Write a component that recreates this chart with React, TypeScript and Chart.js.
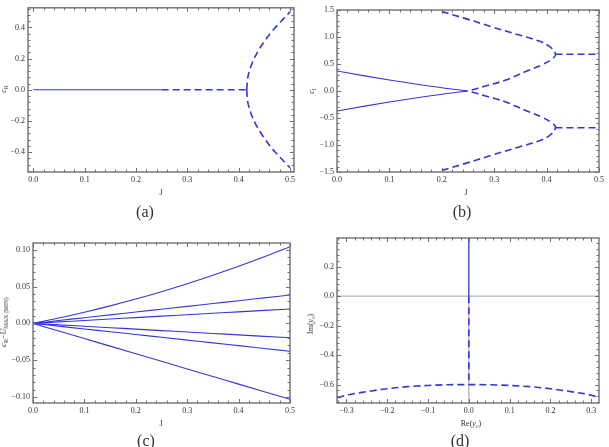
import React, { useEffect, useRef } from "react";
import { Chart, registerables } from "chart.js";
Chart.register(...registerables);

// ---------------- Data ----------------
// Panel (a): c_R vs J
const aJTicks = [0, 0.1, 0.2, 0.3, 0.4, 0.5];
const aCTicks = [-0.4, -0.2, 0, 0.2, 0.4];
const aSolidJ = [0, 0.25];
const aSolidC = [0, 0];
const aFlatJ = [0.25, 0.4157];
const aFlatC = [0, 0];
const aBranchJ = [0.4157, 0.417, 0.42, 0.425, 0.43, 0.44, 0.45, 0.46, 0.47, 0.48, 0.49, 0.5];
const aBranchUp = [0, 0.06, 0.11, 0.16, 0.2, 0.26, 0.31, 0.355, 0.395, 0.43, 0.465, 0.5];
const aBranchDown = [0, -0.06, -0.11, -0.16, -0.2, -0.26, -0.31, -0.355, -0.395, -0.43, -0.465, -0.5];

// Panel (b): c_I vs J
const bJTicks = [0, 0.1, 0.2, 0.3, 0.4, 0.5];
const bCTicks = [-1.5, -1, -0.5, 0, 0.5, 1, 1.5];
const bSolidJ = [0, 0.05, 0.1, 0.15, 0.2, 0.25];
const bSolidUp = [0.37, 0.285, 0.205, 0.13, 0.06, 0];
const bSolidDown = [-0.37, -0.285, -0.205, -0.13, -0.06, 0];
// dashed parabola-like branch: from top edge, round the turning point, back to (0.25, 0)
const bLoopJ = [0.2, 0.244, 0.295, 0.346, 0.384, 0.406, 0.417, 0.41, 0.39, 0.359, 0.321, 0.282, 0.25];
const bLoopUp = [1.47, 1.345, 1.19, 1.04, 0.93, 0.82, 0.68, 0.59, 0.48, 0.357, 0.2, 0.087, 0];
const bLoopDown = [-1.47, -1.345, -1.19, -1.04, -0.93, -0.82, -0.68, -0.59, -0.48, -0.357, -0.2, -0.087, 0];
const bFlatJ = [0.417, 0.5];
const bFlatUp = [0.68, 0.68];
const bFlatDown = [-0.68, -0.68];

// Panel (c): c_R - U_MAX(MIN) vs J
const cJTicks = [0, 0.1, 0.2, 0.3, 0.4, 0.5];
const cCTicks = [-0.1, -0.05, 0, 0.05, 0.1];
const cJ = [0, 0.05, 0.1, 0.15, 0.2, 0.25, 0.3, 0.35, 0.4, 0.45, 0.5];
const cLine1 = [0, 0.0072, 0.0151, 0.0237, 0.033, 0.043, 0.0538, 0.0653, 0.0774, 0.0903, 0.104];
const cLine2 = [0, 0.0038, 0.0077, 0.0115, 0.0154, 0.0192, 0.023, 0.0269, 0.0307, 0.0346, 0.0385];
const cLine3 = [0, 0.002, 0.0039, 0.0059, 0.0078, 0.0098, 0.0117, 0.0137, 0.0156, 0.0176, 0.0195];
const cLine4 = [0, -0.002, -0.0039, -0.0059, -0.0078, -0.0098, -0.0117, -0.0137, -0.0156, -0.0176, -0.0195];
const cLine5 = [0, -0.0038, -0.0076, -0.0113, -0.0151, -0.0189, -0.0227, -0.0265, -0.0302, -0.034, -0.0378];
const cLine6 = [0, -0.0103, -0.0206, -0.0309, -0.0412, -0.0515, -0.0618, -0.0721, -0.0824, -0.0927, -0.103];

// Panel (d): Im(y_c) vs Re(y_c)
const dReTicks = [-0.3, -0.2, -0.1, 0, 0.1, 0.2, 0.3];
const dImTicks = [-0.6, -0.4, -0.2, 0, 0.2];
const dRe = [-0.322, -0.3, -0.25, -0.2, -0.15, -0.1, -0.05, 0, 0.05, 0.1, 0.15, 0.2, 0.25, 0.3, 0.322];
const dIm = [-0.69, -0.672, -0.648, -0.628, -0.614, -0.606, -0.601, -0.6, -0.601, -0.606, -0.614, -0.628, -0.648, -0.672, -0.69];
const dVertRe = [0, 0];
const dVertSolidIm = [0, 0.395];
const dVertDashIm = [0, -0.6];

// ---------------- Styling helpers ----------------
const BLUE = "#3636d8";
const FRAME = "#707070";
const FONT = '"Liberation Serif", "Times New Roman", serif';

const pts = (xs: number[], ys: number[]) => xs.map((x, i) => ({ x, y: ys[i] }));

// mode: "none" straight segments, "mono" monotone cubic, "bez" bezier with tension
const ds = (xs: number[], ys: number[], dashed: boolean, mode: "none" | "mono" | "bez" = "mono") => ({
  data: pts(xs, ys),
  borderColor: BLUE,
  borderWidth: dashed ? 1.6 : 1.1,
  borderDash: dashed ? [7, 4] : [],
  pointRadius: 0,
  fill: false,
  tension: mode === "bez" ? 0.4 : 0,
  cubicInterpolationMode: mode === "mono" ? "monotone" : "default",
});

const fmt = (v: number, d: number) => {
  const s = Math.abs(v).toFixed(d);
  return v < -1e-9 ? "\u2212" + s : s;
};

const makeScale = (axis: "x" | "y", min: number, max: number, ticksArr: number[], digits: number, size: number) => ({
  type: "linear",
  min,
  max,
  grid: { display: false, drawTicks: false, tickLength: 0 },
  border: { display: false },
  afterBuildTicks: (s: any) => {
    s.ticks = ticksArr.map((v) => ({ value: v }));
  },
  afterFit: (s: any) => {
    if (axis === "x") s.height = size;
    else s.width = size;
  },
  ticks: {
    autoSkip: false,
    maxRotation: 0,
    padding: 3,
    color: "#333",
    font: { family: FONT, size: 8 },
    callback: (v: any) => fmt(Number(v), digits),
  },
});

const makeFramePlugin = (xMajor: number[], yMajor: number[], axes: boolean) => ({
  id: "frameTicks",
  beforeDatasetsDraw(chart: any) {
    if (!axes) return;
    const { ctx, chartArea, scales } = chart;
    const { left, right, top, bottom } = chartArea;
    ctx.save();
    ctx.strokeStyle = "#b4b4b4";
    ctx.lineWidth = 1.3;
    const x0 = scales.x.getPixelForValue(0);
    const y0 = scales.y.getPixelForValue(0);
    ctx.beginPath();
    ctx.moveTo(left, y0);
    ctx.lineTo(right, y0);
    ctx.moveTo(x0, top);
    ctx.lineTo(x0, bottom);
    ctx.stroke();
    ctx.restore();
  },
  afterDraw(chart: any) {
    const { ctx, chartArea, scales } = chart;
    const { left, right, top, bottom } = chartArea;
    const xs = scales.x;
    const ys = scales.y;
    const minorVals = (major: number[], min: number, max: number) => {
      const out: number[] = [];
      const step = (major[1] - major[0]) / 5;
      for (let v = major[0] - step; v >= min - 1e-9; v -= step) out.push(v);
      for (let i = 0; i < major.length - 1; i++) {
        for (let k = 1; k < 5; k++) out.push(major[i] + k * step);
      }
      for (let v = major[major.length - 1] + step; v <= max + 1e-9; v += step) out.push(v);
      return out;
    };
    ctx.save();
    ctx.strokeStyle = FRAME;
    ctx.lineWidth = 1;
    ctx.beginPath();
    const xTick = (v: number, len: number) => {
      const p = Math.round(xs.getPixelForValue(v)) + 0.5;
      if (p < left - 0.5 || p > right + 0.5) return;
      ctx.moveTo(p, bottom);
      ctx.lineTo(p, bottom - len);
      ctx.moveTo(p, top);
      ctx.lineTo(p, top + len);
    };
    const yTick = (v: number, len: number) => {
      const p = Math.round(ys.getPixelForValue(v)) + 0.5;
      if (p < top - 0.5 || p > bottom + 0.5) return;
      ctx.moveTo(left, p);
      ctx.lineTo(left + len, p);
      ctx.moveTo(right, p);
      ctx.lineTo(right - len, p);
    };
    xMajor.forEach((v) => xTick(v, 4));
    yMajor.forEach((v) => yTick(v, 4));
    minorVals(xMajor, xs.min, xs.max).forEach((v) => xTick(v, 2.5));
    minorVals(yMajor, ys.min, ys.max).forEach((v) => yTick(v, 2.5));
    ctx.stroke();
    ctx.lineWidth = 1.4;
    ctx.strokeRect(left, top, right - left, bottom - top);
    ctx.restore();
  },
});

type PanelProps = {
  left: number;
  top: number;
  width: number;
  height: number;
  datasets: any[];
  xr: [number, number];
  yr: [number, number];
  xTicks: number[];
  yTicks: number[];
  xDigits: number;
  yDigits: number;
  yAxisW: number;
  xAxisH: number;
  padTop: number;
  padRight: number;
  axes?: boolean;
};

function Panel(p: PanelProps) {
  const ref = useRef<HTMLCanvasElement | null>(null);
  useEffect(() => {
    if (!ref.current) return;
    const chart = new Chart(ref.current, {
      type: "line",
      data: { datasets: p.datasets },
      plugins: [makeFramePlugin(p.xTicks, p.yTicks, !!p.axes)],
      options: {
        animation: false,
        responsive: false,
        maintainAspectRatio: false,
        layout: { padding: { top: p.padTop, right: p.padRight, left: 0, bottom: 0 } },
        plugins: {
          legend: { display: false },
          tooltip: { enabled: false },
        },
        scales: {
          x: makeScale("x", p.xr[0], p.xr[1], p.xTicks, p.xDigits, p.xAxisH) as any,
          y: makeScale("y", p.yr[0], p.yr[1], p.yTicks, p.yDigits, p.yAxisW) as any,
        },
      } as any,
    });
    return () => chart.destroy();
  }, []);
  return (
    <canvas
      ref={ref}
      width={p.width}
      height={p.height}
      style={{ position: "absolute", left: p.left, top: p.top, width: p.width, height: p.height }}
    />
  );
}

const lbl = (x: number, y: number, rotate = false, size = 8): React.CSSProperties => ({
  position: "absolute",
  left: x,
  top: y,
  transform: `translate(-50%, -50%)${rotate ? " rotate(-90deg)" : ""}`,
  fontFamily: FONT,
  fontSize: size,
  color: "#333",
  whiteSpace: "nowrap",
  lineHeight: 1,
});

const subStyle: React.CSSProperties = { fontSize: "75%", verticalAlign: "-0.25em", lineHeight: 0 };

export default function App() {
  const aData = [
    ds(aSolidJ, aSolidC, false, "none"),
    ds(aFlatJ, aFlatC, true, "none"),
    ds(aBranchJ, aBranchUp, true),
    ds(aBranchJ, aBranchDown, true),
  ];
  const bData = [
    ds(bSolidJ, bSolidUp, false),
    ds(bSolidJ, bSolidDown, false),
    ds(bLoopJ, bLoopUp, true, "bez"),
    ds(bLoopJ, bLoopDown, true, "bez"),
    ds(bFlatJ, bFlatUp, true, "none"),
    ds(bFlatJ, bFlatDown, true, "none"),
  ];
  const cData = [cLine1, cLine2, cLine3, cLine4, cLine5, cLine6].map((l) => ds(cJ, l, false));
  const dData = [
    ds(dVertRe, dVertSolidIm, false, "none"),
    ds(dVertRe, dVertDashIm, true, "none"),
    ds(dRe, dIm, true),
  ];

  return (
    <div style={{ position: "absolute", left: 0, top: 0, width: 609, height: 447, background: "#fff", overflow: "hidden" }}>
      <Panel left={0} top={0} width={305} height={200} datasets={aData}
        xr={[-0.0103, 0.5078]} yr={[-0.527, 0.526]} xTicks={aJTicks} yTicks={aCTicks}
        xDigits={1} yDigits={1} yAxisW={28} xAxisH={28} padTop={7} padRight={11} />
      <Panel left={305} top={0} width={304} height={200} datasets={bData}
        xr={[0, 0.5]} yr={[-1.5, 1.5]} xTicks={bJTicks} yTicks={bCTicks}
        xDigits={1} yDigits={1} yAxisW={32} xAxisH={28} padTop={10} padRight={10} />
      <Panel left={0} top={225} width={305} height={200} datasets={cData}
        xr={[0, 0.5]} yr={[-0.108, 0.109]} xTicks={cJTicks} yTicks={cCTicks}
        xDigits={1} yDigits={2} yAxisW={33} xAxisH={22} padTop={18} padRight={15} />
      <Panel left={305} top={225} width={304} height={200} datasets={dData}
        xr={[-0.323, 0.319]} yr={[-0.725, 0.395]} xTicks={dReTicks} yTicks={dImTicks}
        xDigits={1} yDigits={1} yAxisW={32} xAxisH={22} padTop={13} padRight={10} axes />

      {/* axis titles */}
      <div style={lbl(4, 89, true)}><i>c</i><sub style={subStyle}>R</sub></div>
      <div style={lbl(161, 193)}>J</div>
      <div style={lbl(312, 91, true)}><i>c</i><sub style={subStyle}>I</sub></div>
      <div style={lbl(466, 193)}>J</div>
      <div style={lbl(4, 322, true)}>
        <i>c</i><sub style={subStyle}>R</sub>{"\u2212"}<i>U</i><sub style={subStyle}>MAX (MIN)</sub>
      </div>
      <div style={lbl(161, 424)}>J</div>
      <div style={lbl(311, 324, true)}>Im(<i>y</i><sub style={subStyle}>c</sub>)</div>
      <div style={lbl(471, 424)}>Re(<i>y</i><sub style={subStyle}>c</sub>)</div>

      {/* captions */}
      <div style={lbl(145, 212, false, 16)}>(a)</div>
      <div style={lbl(462, 212, false, 16)}>(b)</div>
      <div style={lbl(146, 441, false, 16)}>(c)</div>
      <div style={lbl(460, 441, false, 16)}>(d)</div>
    </div>
  );
}
